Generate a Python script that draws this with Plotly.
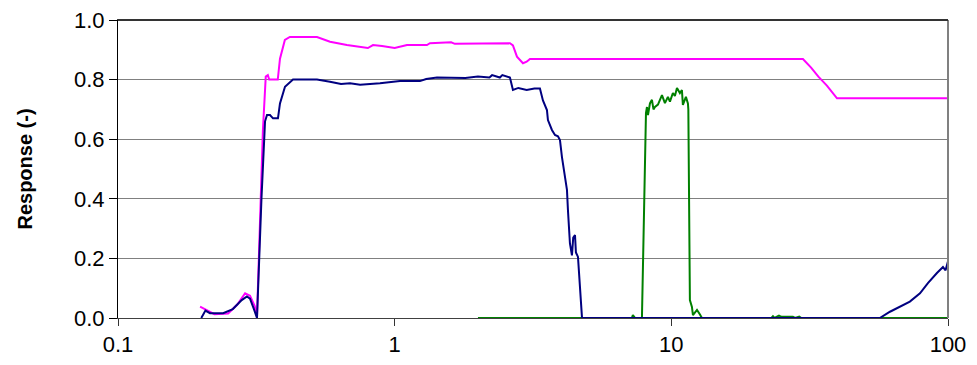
import plotly.graph_objects as go

# Green series
green_x = [2.0, 7.2, 7.26, 7.4, 7.83, 7.897, 8.03, 8.097, 8.165, 8.233, 8.37, 8.51, 8.62, 8.725,
           8.945, 9.1, 9.25, 9.48, 9.72, 9.885, 10.13, 10.3, 10.48, 10.74, 10.92, 11.01, 11.29,
           11.48, 11.52, 11.67, 11.87, 11.97, 12.2, 12.38, 12.69, 12.9, 23.0, 23.3, 23.6, 24.5,
           25.0, 27.5, 28.0, 29.0, 29.5, 100.0]
green_y = [0.0, 0.0, 0.01, 0.0, 0.0, 0.205, 0.463, 0.688, 0.708, 0.681, 0.72, 0.732, 0.70, 0.708,
           0.716, 0.73, 0.748, 0.721, 0.742, 0.726, 0.755, 0.745, 0.772, 0.755, 0.765, 0.715, 0.742,
           0.72, 0.70, 0.06, 0.037, 0.01, 0.02, 0.027, 0.012, 0.0, 0.0, 0.006, 0.0, 0.008,
           0.004, 0.004, 0.0, 0.005, 0.0, 0.0]

# Magenta series
magenta_x = [0.198, 0.21, 0.223, 0.25, 0.27, 0.288, 0.30, 0.312, 0.318, 0.334, 0.342, 0.348,
             0.352, 0.378, 0.385, 0.401, 0.418, 0.524, 0.55, 0.584, 0.672, 0.75, 0.80, 0.835,
             0.9, 1.0, 1.05, 1.108, 1.308, 1.341, 1.6, 1.65, 2.61, 2.676, 2.767, 2.909, 3.0,
             3.083, 29.9, 32.0, 34.0, 36.5, 39.7, 100.0]
magenta_y = [0.038, 0.025, 0.013, 0.015, 0.045, 0.083, 0.075, 0.04, 0.005, 0.63, 0.81, 0.815,
             0.80, 0.80, 0.87, 0.933, 0.943, 0.943, 0.936, 0.927, 0.916, 0.91, 0.906, 0.916,
             0.913, 0.906, 0.91, 0.916, 0.916, 0.922, 0.925, 0.92, 0.922, 0.915, 0.877, 0.855, 0.86,
             0.869, 0.869, 0.84, 0.81, 0.78, 0.737, 0.737]

# Navy series
navy_x = [0.20, 0.207, 0.215, 0.24, 0.26, 0.28, 0.2925, 0.30, 0.31, 0.318, 0.330, 0.340, 0.3456,
          0.3543, 0.3633, 0.3786, 0.385, 0.4014, 0.429, 0.5237, 0.5836, 0.64, 0.6897, 0.75, 0.885,
          1.045, 1.234, 1.30, 1.422, 1.8, 2.0, 2.2, 2.25, 2.4, 2.45, 2.61, 2.676, 2.8, 3.0, 3.2,
          3.35, 3.435, 3.551, 3.581, 3.702, 3.796, 3.892, 3.958, 4.024, 4.126, 4.195, 4.230,
          4.30, 4.373, 4.42, 4.485, 4.52, 4.598, 4.675, 4.753, 4.8, 56.7, 61.7, 67.0, 72.8,
          79.2, 84.6, 91.2, 95.9, 98.0, 100.0]
navy_y = [0.0, 0.025, 0.016, 0.016, 0.03, 0.06, 0.072, 0.065, 0.03, 0.0, 0.40, 0.66, 0.681,
          0.681, 0.67, 0.67, 0.72, 0.776, 0.80, 0.80, 0.793, 0.785, 0.788, 0.783, 0.788,
          0.795, 0.795, 0.802, 0.807, 0.805, 0.81, 0.807, 0.815, 0.807, 0.815, 0.807, 0.765,
          0.772, 0.765, 0.77, 0.77, 0.73, 0.698, 0.664, 0.631, 0.614, 0.61, 0.597, 0.54, 0.473,
          0.43, 0.362, 0.25, 0.21, 0.27, 0.278, 0.22, 0.205, 0.083, 0.003, 0.0, 0.0, 0.021,
          0.038, 0.055, 0.083, 0.117, 0.151, 0.171, 0.16, 0.19]

x_ticks = [0.1, 1, 10, 100]
x_tick_text = ["0.1", "1", "10", "100"]
y_ticks = [0.0, 0.2, 0.4, 0.6, 0.8, 1.0]
y_tick_text = ["0.0", "0.2", "0.4", "0.6", "0.8", "1.0"]

fig = go.Figure()
fig.add_trace(go.Scatter(x=green_x, y=green_y, mode="lines",
                         line=dict(color="#008000", width=2), showlegend=False))
fig.add_trace(go.Scatter(x=magenta_x, y=magenta_y, mode="lines",
                         line=dict(color="#FF00FF", width=2), showlegend=False))
fig.add_trace(go.Scatter(x=navy_x, y=navy_y, mode="lines",
                         line=dict(color="#000080", width=2), showlegend=False))

font_family = "Liberation Sans, Arial, sans-serif"

fig.update_layout(
    width=977, height=365,
    margin=dict(l=110, r=37, t=12, b=55, autoexpand=False),
    paper_bgcolor="white", plot_bgcolor="white",
    font=dict(family=font_family, color="black", size=22),
    xaxis=dict(
        type="log", range=[-1, 2], automargin=False,
        tickvals=x_ticks, ticktext=x_tick_text,
        ticks="outside", ticklen=7, tickcolor="#333333",
        showline=True, linecolor="#404040", linewidth=1, mirror=True,
        showgrid=False, zeroline=False, ticklabeloverflow="allow",
        tickfont=dict(size=22),
    ),
    yaxis=dict(
        range=[0, 1], automargin=False,
        tickvals=y_ticks, ticktext=y_tick_text,
        ticks="outside", ticklen=8, tickcolor="black",
        showline=True, linecolor="black", linewidth=1,
        showgrid=True, gridcolor="#808080", gridwidth=1,
        zeroline=False, ticklabeloverflow="allow",
        tickfont=dict(size=22),
        title=dict(text="<b>Response (-)</b>", font=dict(size=20), standoff=36),
    ),
    shapes=[
        dict(type="line", xref="paper", yref="paper", x0=1, x1=1, y0=0, y1=1,
             line=dict(color="#808080", width=2)),
        dict(type="line", xref="paper", yref="paper", x0=0, x1=1, y0=1, y1=1,
             line=dict(color="#333333", width=2)),
    ],
)

fig.write_html("out.html")
